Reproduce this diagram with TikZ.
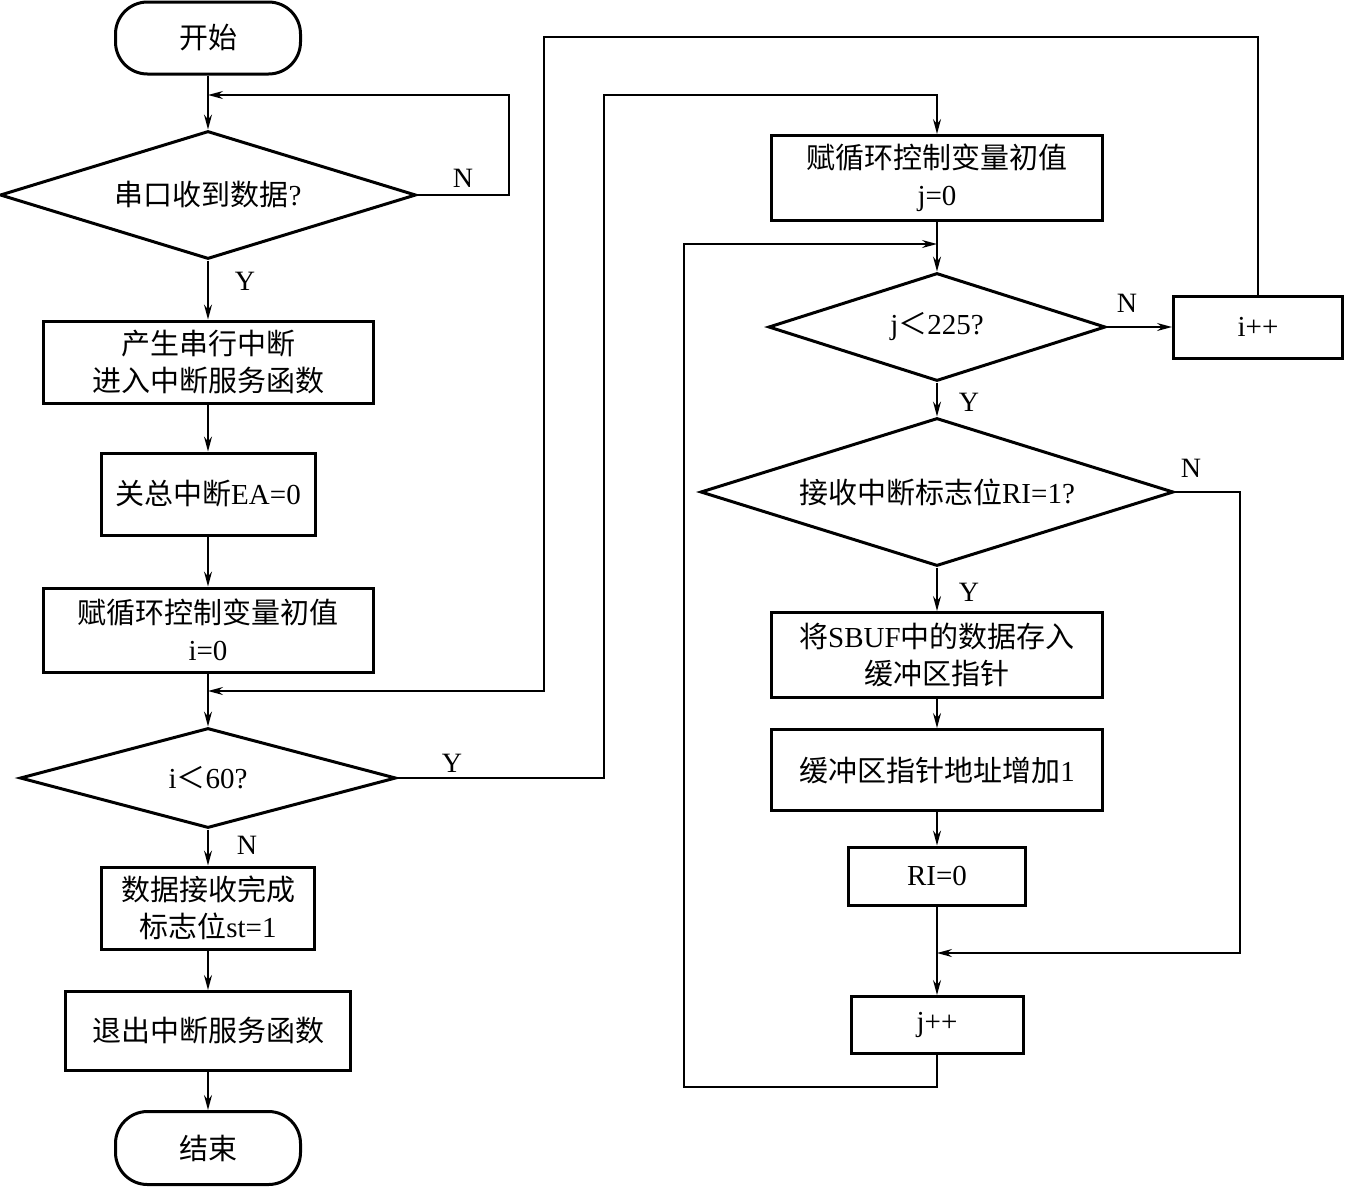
\documentclass[tikz,border=0pt]{standalone}
\usepackage{fontspec}
\setmainfont{Liberation Serif}
\newfontfamily\cjk{Noto Sans CJK SC}
\usetikzlibrary{arrows.meta,shapes.geometric}
\begin{document}
\begin{tikzpicture}[x=1pt,y=-1pt,
  every node/.style={font=\fontsize{29}{37}\selectfont},
  proc/.style={draw,line width=3pt,inner sep=0pt,align=center},
  term/.style={draw,line width=3pt,rounded corners=32pt,inner sep=0pt},
  dec/.style={draw,diamond,line width=3pt,inner sep=0pt,aspect=3},
  conn/.style={line width=1.5pt},
  arr/.style={conn,-{Stealth[length=15pt,width=8pt,inset=5pt]}},
  lab/.style={font=\fontsize{28}{32}\selectfont}]
\useasboundingbox (0,0) rectangle (1346,1187);
% left column
\node[term,minimum width=185pt,minimum height=72pt] (start) at (208,38) {\cjk 开始};
\node[dec,minimum width=416pt,minimum height=128pt] (d1) at (208,195) {{\cjk 串口收到数据}?};
\node[proc,minimum width=330pt,minimum height=82pt] (b1) at (208,362) {{\cjk 产生串行中断}\\{\cjk 进入中断服务函数}};
\node[proc,minimum width=214pt,minimum height=82pt] (b2) at (208,494) {{\cjk 关总中断}EA=0};
\node[proc,minimum width=330pt,minimum height=84pt] (b3) at (208,630) {{\cjk 赋循环控制变量初值}\\i=0};
\node[dec,minimum width=376pt,minimum height=100pt] (d2) at (208,778) {i{\cjk ＜}60?};
\node[proc,minimum width=213pt,minimum height=82pt] (b4) at (208,908) {{\cjk 数据接收完成}\\{\cjk 标志位}st=1};
\node[proc,minimum width=285pt,minimum height=79pt] (b5) at (208,1031) {{\cjk 退出中断服务函数}};
\node[term,minimum width=185pt,minimum height=73pt] (end) at (208,1148) {\cjk 结束};
% right column
\node[proc,minimum width=331pt,minimum height=85pt] (jb) at (937,178) {{\cjk 赋循环控制变量初值}\\j=0};
\node[dec,minimum width=337pt,minimum height=108pt] (d3) at (937,327) {j{\cjk ＜}225?};
\node[proc,minimum width=169pt,minimum height=62pt] (ipp) at (1258,327) {i++};
\node[dec,minimum width=473pt,minimum height=148pt] (d4) at (937,492) {{\cjk 接收中断标志位}RI=1?};
\node[proc,minimum width=331pt,minimum height=85pt] (b6) at (937,655) {{\cjk 将}SBUF{\cjk 中的数据存入}\\{\cjk 缓冲区指针}};
\node[proc,minimum width=331pt,minimum height=81pt] (b7) at (937,770) {{\cjk 缓冲区指针地址增加}1};
\node[proc,minimum width=177pt,minimum height=58pt] (b8) at (937,876) {RI=0};
\node[proc,minimum width=172pt,minimum height=57pt] (jpp) at (937,1025) {j++};
% labels
\node[lab] (ln1) at (463,178) {N};
\node[lab] (ly1) at (245,281) {Y};
\node[lab] (ly2) at (452,763) {Y};
\node[lab] (ln2) at (247,845) {N};
\node[lab] (ln3) at (1127,303) {N};
\node[lab] (ly3) at (969,402) {Y};
\node[lab] (ln4) at (1191,468) {N};
\node[lab] (ly4) at (969,592) {Y};
% coordinates
\coordinate (m1) at (208,95);
\coordinate (k1) at (509,95);
\coordinate (m2) at (208,691);
\coordinate (k2) at (544,37);
\coordinate (k3) at (604,95);
\coordinate (m3) at (937,244);
\coordinate (k4) at (684,1087);
\coordinate (k5) at (1240,953);
\coordinate (m4) at (937,953);
% connectors
\draw[arr] (start) -- (d1);
\draw[arr] (d1.east) -| (k1) -- (m1);
\draw[arr] (d1) -- (b1);
\draw[arr] (b1) -- (b2);
\draw[arr] (b2) -- (b3);
\draw[arr] (b3) -- (d2);
\draw[arr] (ipp.north) |- (k2) |- (m2);
\draw[arr] (d2.east) -| (k3) -| (jb.north);
\draw[arr] (d2) -- (b4);
\draw[arr] (b4) -- (b5);
\draw[arr] (b5) -- (end);
\draw[arr] (jb) -- (d3);
\draw[arr] (jpp.south) |- (k4) |- (m3);
\draw[arr] (d3) -- (ipp);
\draw[arr] (d3) -- (d4);
\draw[arr] (d4) -- (b6);
\draw[arr] (d4.east) -| (k5) -- (m4);
\draw[arr] (b6) -- (b7);
\draw[arr] (b7) -- (b8);
\draw[arr] (b8) -- (jpp);
\end{tikzpicture}
\end{document}
